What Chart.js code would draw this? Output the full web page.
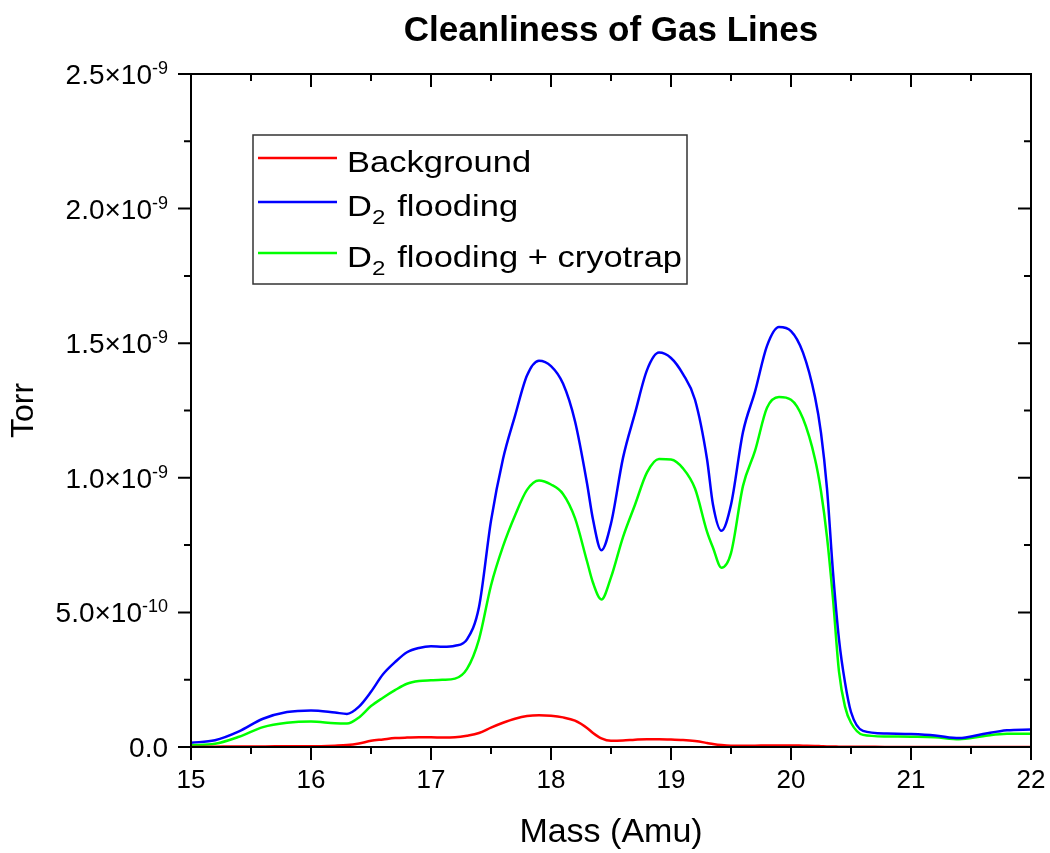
<!DOCTYPE html>
<html lang="en">
<head>
  <meta charset="UTF-8" />
  <title>Cleanliness of Gas Lines</title>
  <script src="https://cdn.jsdelivr.net/npm/chart.js"></script>
  <style>
    body { margin: 0; background: #fff; }
    canvas { display: block; }
  </style>
</head>
<body>
  <canvas id="chart" width="1050" height="853"></canvas>

  <script>
    // mass axis (Amu), shared by all three scans
    const masses = [15.0, 15.2, 15.4, 15.6, 15.8, 16.0, 16.2,
      16.3, 16.4, 16.5, 16.6, 16.7, 16.8, 16.9, 17.0, 17.1, 17.2, 17.3, 17.4, 17.5, 17.6, 17.7, 17.8, 17.9, 18.0, 18.1, 18.2, 18.3,
      18.35, 18.42,
      18.5, 18.6, 18.7, 18.8, 18.9, 19.0, 19.1, 19.2, 19.3,
      19.35, 19.42,
      19.5, 19.6, 19.7, 19.8, 19.9, 20.0, 20.1, 20.2,
      20.25,
      20.3, 20.35, 20.4, 20.45, 20.5,
      20.6,
      20.8, 21.0, 21.2, 21.4, 21.6, 21.8, 22.0];

    // pressures in units of 1e-9 Torr
    const background = [0.000, 0.001, 0.002, 0.002, 0.003, 0.003, 0.005,
      0.007, 0.013, 0.023, 0.028, 0.033, 0.035, 0.036, 0.036, 0.035, 0.036, 0.042, 0.052, 0.072, 0.090, 0.105, 0.115, 0.118, 0.116, 0.110, 0.098, 0.071,
      0.052, 0.032,
      0.023, 0.024, 0.027, 0.029, 0.029, 0.028, 0.026, 0.022, 0.015,
      0.011, 0.007,
      0.005, 0.005, 0.005, 0.006, 0.006, 0.006, 0.005, 0.004,
      0.003,
      0.002, 0.002, 0.001, 0.001, 0.001,
      0.001,
      0, 0, 0, 0, 0, 0, 0];

    const d2Flooding = [0.016, 0.025, 0.058, 0.105, 0.130, 0.136, 0.128,
      0.123, 0.150, 0.205, 0.270, 0.315, 0.352, 0.368, 0.374, 0.372, 0.376, 0.40, 0.52, 0.84, 1.07, 1.23, 1.38, 1.435, 1.415, 1.35, 1.21, 0.98,
      0.845, 0.731,
      0.83, 1.074, 1.24, 1.40, 1.465, 1.445, 1.385, 1.29, 1.07,
      0.90, 0.803,
      0.90, 1.17, 1.32, 1.49, 1.56, 1.545, 1.465, 1.30,
      1.167,
      0.96, 0.65, 0.40, 0.24, 0.13,
      0.06,
      0.050, 0.048, 0.043, 0.033, 0.048, 0.062, 0.065];

    const d2Cryotrap = [0.007, 0.012, 0.038, 0.074, 0.090, 0.095, 0.088,
      0.087, 0.110, 0.152, 0.183, 0.211, 0.235, 0.245, 0.248, 0.250, 0.254, 0.29, 0.40, 0.60, 0.745, 0.86, 0.955, 0.99, 0.975, 0.94, 0.85, 0.69,
      0.61, 0.548,
      0.63, 0.78, 0.90, 1.02, 1.07, 1.068, 1.035, 0.96, 0.80,
      0.74, 0.666,
      0.72, 0.97, 1.10, 1.26, 1.30, 1.29, 1.22, 1.07,
      0.95,
      0.78, 0.55, 0.28, 0.15, 0.09,
      0.045,
      0.039, 0.038, 0.036, 0.029, 0.040, 0.049, 0.049];

    const seriesLabels = ['Background', 'D₂ flooding', 'D₂ flooding + cryotrap'];
    const seriesColors = ['#ff0000', '#0000ff', '#00ff00'];

    const FONT = '"Liberation Sans", Arial, sans-serif';

    function toPoints(values) {
      return masses.map((m, i) => ({ x: m, y: values[i] }));
    }

    // text with "₂" drawn as a real lowered subscript
    function drawRich(ctx, text, x, y, size) {
      let cx = x;
      for (const part of text.split(/(₂)/)) {
        if (!part) continue;
        if (part === '₂') {
          ctx.font = `${Math.round(size * 0.7)}px ${FONT}`;
          ctx.fillText('2', cx, y + size * 0.27);
          cx += ctx.measureText('2').width + 2;
        } else {
          ctx.font = `${size}px ${FONT}`;
          ctx.fillText(part, cx, y);
          cx += ctx.measureText(part).width;
        }
      }
    }

    const framePlugin = {
      id: 'frame',
      afterDraw(chart) {
        const { ctx, chartArea: a, scales: { x, y } } = chart;
        ctx.save();
        ctx.strokeStyle = '#000';
        ctx.lineWidth = 2;
        ctx.strokeRect(a.left, a.top, a.right - a.left, a.bottom - a.top);

        const major = 13, minor = 7;
        ctx.beginPath();
        const xt = x.ticks.map(t => t.value);
        xt.forEach((v, i) => {
          const px = x.getPixelForValue(v);
          ctx.moveTo(px, a.bottom); ctx.lineTo(px, a.bottom + major);
          ctx.moveTo(px, a.top); ctx.lineTo(px, a.top + major);
          if (i < xt.length - 1) {
            const mx = x.getPixelForValue((v + xt[i + 1]) / 2);
            ctx.moveTo(mx, a.bottom); ctx.lineTo(mx, a.bottom + minor);
            ctx.moveTo(mx, a.top); ctx.lineTo(mx, a.top + minor);
          }
        });
        const yt = y.ticks.map(t => t.value);
        yt.forEach((v, i) => {
          const py = y.getPixelForValue(v);
          ctx.moveTo(a.left - major, py); ctx.lineTo(a.left, py);
          ctx.moveTo(a.right - major, py); ctx.lineTo(a.right, py);
          if (i < yt.length - 1) {
            const my = y.getPixelForValue((v + yt[i + 1]) / 2);
            ctx.moveTo(a.left - minor, my); ctx.lineTo(a.left, my);
            ctx.moveTo(a.right - minor, my); ctx.lineTo(a.right, my);
          }
        });
        ctx.stroke();

        // y tick labels as mantissa x 10^exp
        ctx.fillStyle = '#000';
        ctx.textAlign = 'right';
        ctx.textBaseline = 'alphabetic';
        const rx = a.left - 23;
        yt.forEach(v => {
          const py = y.getPixelForValue(v);
          let mant, exp = '';
          if (v === 0) mant = '0.0';
          else if (v >= 1) { mant = v.toFixed(1) + '×10'; exp = '-9'; }
          else { mant = (v * 10).toFixed(1) + '×10'; exp = '-10'; }
          ctx.font = `18px ${FONT}`;
          const ew = exp ? ctx.measureText(exp).width : 0;
          if (exp) ctx.fillText(exp, rx, py);
          ctx.font = `28px ${FONT}`;
          ctx.fillText(mant, rx - ew, py + 10);
        });

        // legend box
        const lx = 253, ly = 135, lw = 434, lh = 149;
        ctx.lineWidth = 1.5;
        ctx.strokeStyle = '#333';
        ctx.strokeRect(lx, ly, lw, lh);
        const rows = [158, 202, 253];
        ctx.textAlign = 'left';
        chart.data.datasets.forEach((ds, i) => {
          const ry = rows[i];
          ctx.strokeStyle = ds.borderColor;
          ctx.lineWidth = 2.5;
          ctx.beginPath();
          ctx.moveTo(lx + 5, ry); ctx.lineTo(lx + 84, ry);
          ctx.stroke();
          ctx.save();
          ctx.translate(lx + 94, ry + 14);
          ctx.scale(1.15, 1);
          ctx.fillStyle = '#000';
          drawRich(ctx, ds.label, 0, 0, 30);
          ctx.restore();
        });
        ctx.restore();
      }
    };

    new Chart(document.getElementById('chart'), {
      type: 'line',
      data: {
        datasets: [background, d2Flooding, d2Cryotrap].map((vals, i) => ({
          label: seriesLabels[i],
          data: toPoints(vals),
          borderColor: seriesColors[i],
          borderWidth: 2.5,
          pointRadius: 0,
          fill: false,
          cubicInterpolationMode: 'monotone'
        }))
      },
      options: {
        responsive: false,
        animation: false,
        layout: { padding: { left: 0, right: 19, top: 0, bottom: 0 } },
        plugins: {
          legend: { display: false },
          tooltip: { enabled: false },
          title: {
            display: true,
            fullSize: false,
            text: 'Cleanliness of Gas Lines',
            color: '#000',
            font: { family: FONT, size: 35, weight: 'bold' },
            padding: { top: 10, bottom: 22 }
          }
        },
        scales: {
          x: {
            type: 'linear',
            min: 15,
            max: 22,
            grid: { display: false, drawTicks: false },
            border: { display: false },
            ticks: {
              stepSize: 1,
              color: '#000',
              padding: 18,
              maxRotation: 0,
              font: { family: FONT, size: 26 }
            },
            title: {
              display: true,
              text: 'Mass (Amu)',
              color: '#000',
              font: { family: FONT, size: 34 },
              padding: { top: 0, bottom: 0 }
            },
            afterFit: s => { s.height = 106; s.paddingLeft = 0; s.paddingRight = 0; }
          },
          y: {
            type: 'linear',
            min: 0,
            max: 2.5,
            grid: { display: false, drawTicks: false },
            border: { display: false },
            ticks: { stepSize: 0.5, display: false },
            title: {
              display: true,
              text: 'Torr',
              color: '#000',
              font: { family: FONT, size: 32 },
              padding: { top: 5, bottom: 0 }
            },
            afterFit: s => { s.width = 191; }
          }
        }
      },
      plugins: [framePlugin]
    });
  </script>
</body>
</html>
